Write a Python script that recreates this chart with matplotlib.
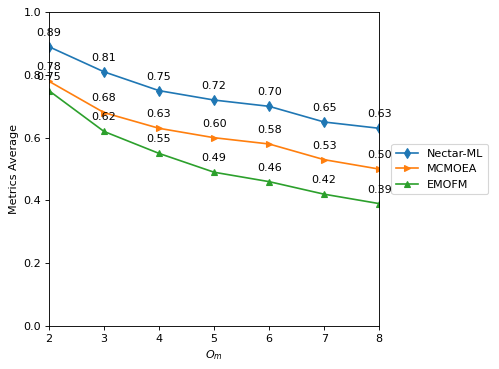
import matplotlib
matplotlib.use("Agg")
import matplotlib.pyplot as plt

# data
om_values = [2, 3, 4, 5, 6, 7, 8]
nectar_ml = [0.89, 0.81, 0.75, 0.72, 0.70, 0.65, 0.63]
mcmoea = [0.78, 0.68, 0.63, 0.60, 0.58, 0.53, 0.50]
emofm = [0.75, 0.62, 0.55, 0.49, 0.46, 0.42, 0.39]

series = [
    ("Nectar-ML", nectar_ml, "d"),
    ("MCMOEA", mcmoea, ">"),
    ("EMOFM", emofm, "^"),
]

# reference looks like a bigger figure shrunk down, so render at a lower dpi
DPI = 80
fig, ax = plt.subplots(figsize=(499 / DPI, 369 / DPI), dpi=DPI)
fig.subplots_adjust(left=0.098, right=0.760, top=0.967, bottom=0.1165)

for name, values, marker in series:
    ax.plot(om_values, values, marker=marker, label=name)
    for x, y in zip(om_values, values):
        ax.annotate(f"{y:.2f}", (x, y), textcoords="offset points",
                    xytext=(0, 10), ha="center")

ax.set_xlim(2, 8)
ax.set_ylim(0, 1.0)
ax.set_xlabel("$O_m$")
ax.set_ylabel("Metrics Average")
ax.legend(loc="center left", bbox_to_anchor=(1.02, 0.5))

fig.savefig("out.png", dpi=DPI)
